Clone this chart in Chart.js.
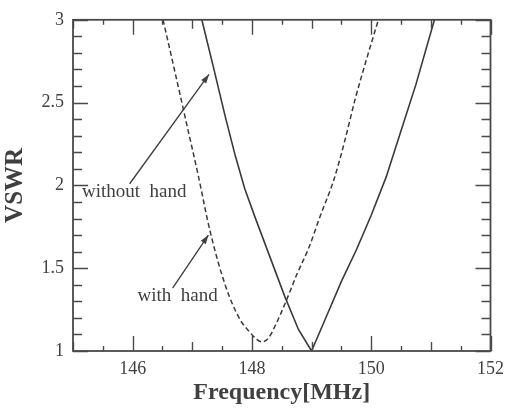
<!DOCTYPE html>
<html>
<head>
<meta charset="utf-8">
<script src="https://cdn.jsdelivr.net/npm/chart.js@4.4.1/dist/chart.umd.min.js"></script>
<style>
  html, body { margin: 0; padding: 0; background: #fff; }
  #wrap { width: 511px; height: 408px; }
</style>
</head>
<body>
<div id="wrap"><canvas id="c" width="511" height="408"></canvas></div>
<script>
const INK = "#3a3a3a";
const TEXT = "#404040";
const SERIF = "'Liberation Serif', 'DejaVu Serif', serif";

// without hand (solid)
const freqWithout = [147.16, 147.35, 147.55, 147.72, 147.88, 148.05, 148.30, 148.55, 148.78, 149.00,
  149.25, 149.50, 149.75, 150.00, 150.25, 150.50, 150.75, 151.06];
const vswrWithout = [3.00, 2.72, 2.42, 2.18, 1.98, 1.81, 1.57, 1.33, 1.13, 1.00,
  1.21, 1.42, 1.61, 1.82, 2.05, 2.33, 2.61, 3.00];

// with hand (dashed)
const freqWith = [146.51, 146.70, 146.90, 147.10, 147.30, 147.56, 147.80, 147.95, 148.08, 148.17,
  148.28, 148.40, 148.56, 148.75, 148.95, 149.15, 149.37, 149.55, 149.73, 149.92, 150.12];
const vswrWith = [3.00, 2.70, 2.38, 2.06, 1.72, 1.39, 1.19, 1.12, 1.07, 1.055,
  1.08, 1.16, 1.29, 1.46, 1.62, 1.82, 2.03, 2.26, 2.52, 2.76, 3.00];

const xTickLabels = [146, 148, 150, 152];
const yTickLabels = [1, 1.5, 2, 2.5, 3];

// labels with arrows: text anchor and arrow from -> to, in data units
const notes = [
  { text: "without  hand", at: [145.15, 1.93], from: [145.95, 2.01], to: [147.28, 2.67] },
  { text: "with  hand", at: [146.08, 1.30], from: [146.67, 1.38], to: [147.27, 1.70] },
];

const toPoints = (xs, ys) => xs.map((x, i) => ({ x, y: ys[i] }));

const frameAndNotes = {
  id: "frameAndNotes",
  afterDraw(chart) {
    const { ctx, chartArea: a, scales } = chart;
    const sx = scales.x, sy = scales.y;
    ctx.save();
    ctx.strokeStyle = "#4a4a4a";
    ctx.lineWidth = 1.8;
    ctx.strokeRect(a.left, a.top, a.right - a.left, a.bottom - a.top);

    // x ticks, inside, bottom and top
    ctx.lineWidth = 1.4;
    ctx.beginPath();
    for (let k = 0; k <= 14; k++) {
      const v = 145 + k * 0.5;
      const len = v % 2 === 0 ? 15 : v % 1 === 0 ? 9 : 5;
      const px = Math.round(sx.getPixelForValue(v)) + 0.5;
      ctx.moveTo(px, a.bottom); ctx.lineTo(px, a.bottom - len);
      ctx.moveTo(px, a.top); ctx.lineTo(px, a.top + len);
    }
    // y ticks, inside, left and right
    for (let k = 0; k <= 20; k++) {
      const v = 1 + k * 0.1;
      const len = k % 5 === 0 ? 15 : 9;
      const py = Math.round(sy.getPixelForValue(v)) + 0.5;
      ctx.moveTo(a.left, py); ctx.lineTo(a.left + len, py);
      ctx.moveTo(a.right, py); ctx.lineTo(a.right - len, py);
    }
    ctx.stroke();

    // annotations
    ctx.fillStyle = TEXT;
    ctx.strokeStyle = INK;
    ctx.font = "19px " + SERIF;
    ctx.textBaseline = "alphabetic";
    notes.forEach((n) => {
      ctx.fillText(n.text, sx.getPixelForValue(n.at[0]), sy.getPixelForValue(n.at[1]));
      const x1 = sx.getPixelForValue(n.from[0]), y1 = sy.getPixelForValue(n.from[1]);
      const x2 = sx.getPixelForValue(n.to[0]), y2 = sy.getPixelForValue(n.to[1]);
      ctx.lineWidth = 1.3;
      ctx.beginPath();
      ctx.moveTo(x1, y1); ctx.lineTo(x2, y2);
      ctx.stroke();
      const ang = Math.atan2(y2 - y1, x2 - x1);
      const h = 9, w = 3;
      ctx.beginPath();
      ctx.moveTo(x2, y2);
      ctx.lineTo(x2 - h * Math.cos(ang) + w * Math.sin(ang), y2 - h * Math.sin(ang) - w * Math.cos(ang));
      ctx.lineTo(x2 - h * Math.cos(ang) - w * Math.sin(ang), y2 - h * Math.sin(ang) + w * Math.cos(ang));
      ctx.closePath();
      ctx.fill();
    });
    ctx.restore();
  },
};

new Chart(document.getElementById("c"), {
  type: "scatter",
  data: {
    datasets: [
      {
        label: "without hand",
        data: toPoints(freqWithout, vswrWithout),
        showLine: true,
        borderColor: INK,
        borderWidth: 1.6,
        tension: 0,
        pointRadius: 0,
      },
      {
        label: "with hand",
        data: toPoints(freqWith, vswrWith),
        showLine: true,
        borderColor: INK,
        borderWidth: 1.5,
        borderDash: [5, 3],
        cubicInterpolationMode: "monotone",
        pointRadius: 0,
      },
    ],
  },
  plugins: [frameAndNotes],
  options: {
    responsive: false,
    animation: false,
    events: [],
    layout: { padding: { top: 16, right: 18, left: 0, bottom: 0 } },
    plugins: { legend: { display: false }, tooltip: { enabled: false } },
    scales: {
      x: {
        type: "linear",
        min: 145,
        max: 152,
        afterFit: (s) => { s.height = 57; },
        grid: { display: false, drawTicks: false },
        border: { display: false },
        ticks: {
          stepSize: 1,
          autoSkip: false,
          maxRotation: 0,
          padding: 7,
          color: TEXT,
          font: { family: SERIF, size: 18 },
          callback: (v) => (xTickLabels.includes(v) ? String(v) : ""),
        },
        title: {
          display: true,
          text: "Frequency[MHz]",
          color: TEXT,
          font: { family: SERIF, size: 24, weight: "bold" },
          padding: { top: 0, bottom: 1 },
        },
      },
      y: {
        type: "linear",
        min: 1,
        max: 3,
        afterFit: (s) => { s.width = 73; },
        grid: { display: false, drawTicks: false },
        border: { display: false },
        ticks: {
          stepSize: 0.5,
          padding: 9,
          color: TEXT,
          font: { family: SERIF, size: 18 },
          callback: (v) => (yTickLabels.includes(v) ? String(v) : ""),
        },
        title: {
          display: true,
          text: "VSWR",
          color: TEXT,
          font: { family: SERIF, size: 25, weight: "bold" },
          padding: { top: 1, bottom: 0 },
        },
      },
    },
  },
});
</script>
</body>
</html>
